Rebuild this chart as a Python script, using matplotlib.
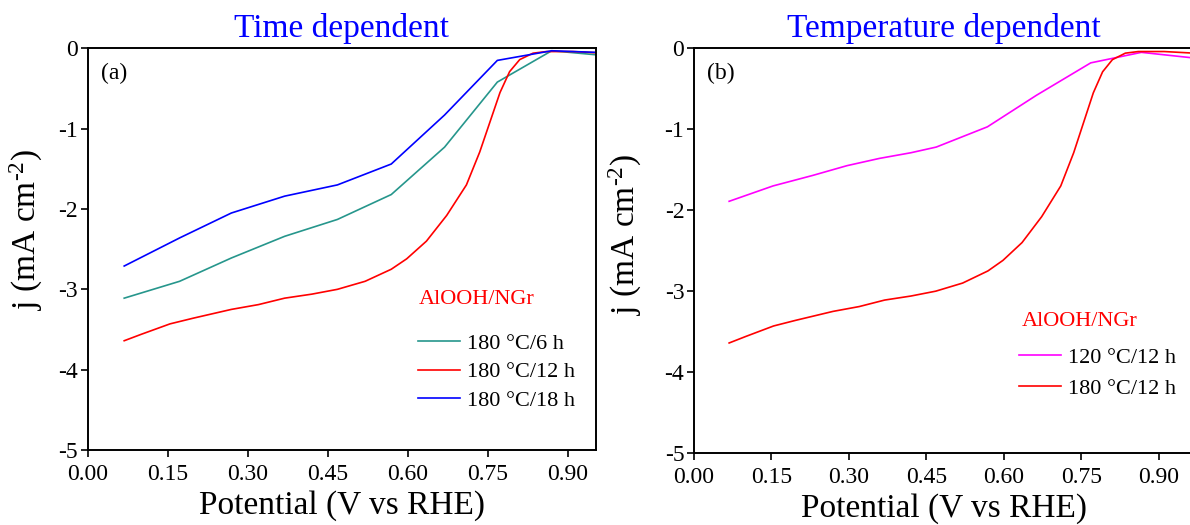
import matplotlib
matplotlib.use('Agg')
from matplotlib import pyplot as plt

# potential (V vs RHE) and current density (mA cm-2)
x_6h = [0.068, 0.172, 0.269, 0.369, 0.468, 0.569, 0.669, 0.768, 0.870, 0.953]
j_6h = [-3.11, -2.90, -2.61, -2.34, -2.13, -1.82, -1.23, -0.42, -0.03, -0.08]

x_18h = [0.068, 0.172, 0.269, 0.369, 0.468, 0.569, 0.669, 0.768, 0.870, 0.953]
j_18h = [-2.71, -2.36, -2.05, -1.84, -1.70, -1.44, -0.83, -0.15, -0.03, -0.05]

x_12h = [0.068, 0.100, 0.154, 0.197, 0.269, 0.320, 0.369, 0.420, 0.468, 0.520,
         0.569, 0.598, 0.635, 0.673, 0.710, 0.735, 0.754, 0.773, 0.791, 0.810,
         0.835, 0.860, 0.910, 0.968]
j_12h = [-3.64, -3.56, -3.43, -3.36, -3.25, -3.19, -3.11, -3.06, -3.00, -2.90,
         -2.75, -2.62, -2.40, -2.08, -1.70, -1.29, -0.92, -0.55, -0.29, -0.14,
         -0.06, -0.04, -0.04, -0.06]

x_120 = [0.068, 0.153, 0.230, 0.296, 0.359, 0.420, 0.469, 0.568, 0.663, 0.768, 0.866, 0.968]
j_120 = [-1.89, -1.70, -1.57, -1.45, -1.36, -1.29, -1.22, -0.97, -0.58, -0.18, -0.05, -0.12]

xticks = [0.00, 0.15, 0.30, 0.45, 0.60, 0.75, 0.90]
xtick_labels = ['0.00', '0.15', '0.30', '0.45', '0.60', '0.75', '0.90']
yticks = [0, -1, -2, -3, -4, -5]
ytick_labels = ['0', '-1', '-2', '-3', '-4', '-5']

plt.rcParams['font.family'] = ['Liberation Serif', 'DejaVu Serif']
plt.rcParams['mathtext.fontset'] = 'custom'
plt.rcParams['mathtext.rm'] = 'Liberation Serif'
plt.rcParams['mathtext.default'] = 'rm'

fig = plt.figure(figsize=(11.9, 5.25), dpi=100)
ax1 = fig.add_axes([0.0739, 0.1429, 0.4269, 0.765])
ax2 = fig.add_axes([0.5832, 0.137, 0.4202, 0.771])


def style(ax, xmax, title, tag, ylab_x, ylab_y):
    ax.set_xlim(0, xmax)
    ax.set_ylim(-5, 0)
    ax.set_xticks(xticks)
    ax.set_xticklabels(xtick_labels)
    ax.set_yticks(yticks)
    ax.set_yticklabels(ytick_labels)
    ax.tick_params(direction='out', length=5, width=1.2, labelsize=17)
    ax.tick_params(axis='x', pad=5)
    ax.tick_params(axis='y', pad=2)
    for s in ax.spines.values():
        s.set_linewidth(1.4)
    ax.set_xlabel('Potential (V vs RHE)', fontsize=24, labelpad=4)
    ax.set_ylabel('j (mA cm$^{\u20102}$)', fontsize=24)
    ax.yaxis.set_label_coords(ylab_x, ylab_y)
    ax.set_title(title, color='#0000ff', fontsize=24, pad=8)
    ax.text(0.025, 0.965, tag, transform=ax.transAxes, fontsize=17, va='top')


# (a) time dependent
ax1.plot(x_6h, j_6h, color='#26968c', lw=1.2, label='180 °C/6 h')
ax1.plot(x_12h, j_12h, color='#ff0000', lw=1.2, label='180 °C/12 h')
ax1.plot(x_18h, j_18h, color='#0000ff', lw=1.2, label='180 °C/18 h')
style(ax1, 0.953, 'Time dependent', '(a)', -0.085, 0.55)
ax1.text(0.652, 0.375, 'AlOOH/NGr', transform=ax1.transAxes, color='#ff0000',
         fontsize=16, va='center')
ax1.legend(loc='upper left', bbox_to_anchor=(0.65, 0.29), frameon=False,
           fontsize=16, handlelength=1.9, handletextpad=0.3, labelspacing=0.35,
           borderpad=0, borderaxespad=0)

# (b) temperature dependent
ax2.plot(x_120, j_120, color='#ff00ff', lw=1.2, label='120 °C/12 h')
ax2.plot(x_12h, j_12h, color='#ff0000', lw=1.2, label='180 °C/12 h')
style(ax2, 0.968, 'Temperature dependent', '(b)', -0.10, 0.54)
ax2.text(0.656, 0.324, 'AlOOH/NGr', transform=ax2.transAxes, color='#ff0000',
         fontsize=16, va='center')
ax2.legend(loc='upper left', bbox_to_anchor=(0.650, 0.262), frameon=False,
           fontsize=16, handlelength=1.9, handletextpad=0.3, labelspacing=0.5,
           borderpad=0, borderaxespad=0)

fig.savefig('out.png', dpi=100)
